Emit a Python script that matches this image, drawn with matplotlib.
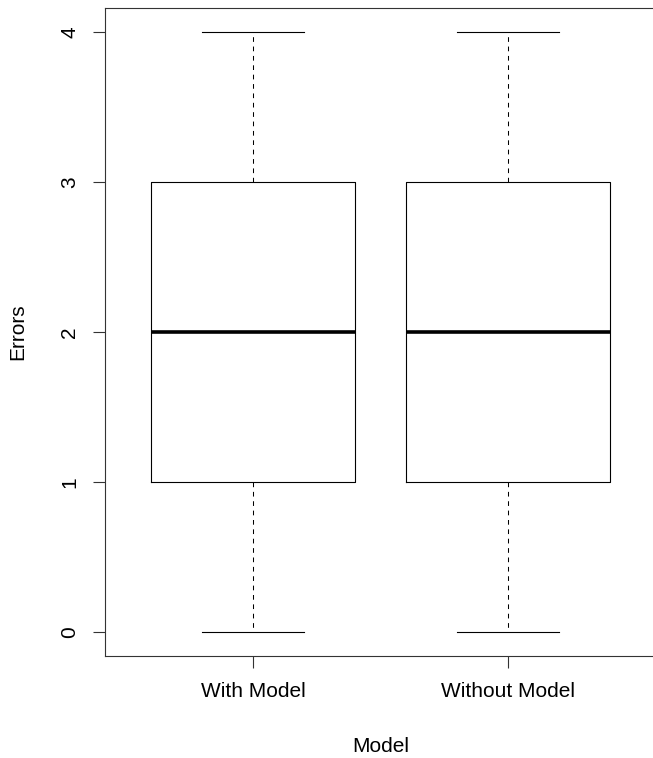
import matplotlib
matplotlib.use("Agg")
import matplotlib.pyplot as plt

# five-number summaries
groups = ["With Model", "Without Model"]
mins = [0, 0]
q1s = [1, 1]
medians = [2, 2]
q3s = [3, 3]
maxs = [4, 4]

plt.rcParams['font.family'] = ['Liberation Sans', 'DejaVu Sans']

fig = plt.figure(figsize=(6.53, 7.58), dpi=100)
# axes frame runs past the right edge like the reference crop
ax = fig.add_axes([105 / 653, (758 - 656) / 758, 551 / 653, 648 / 758])

stats = []
for g, lo, a, m, b, hi in zip(groups, mins, q1s, medians, q3s, maxs):
    stats.append(dict(label=g, whislo=lo, q1=a, med=m, q3=b, whishi=hi, fliers=[]))

ax.bxp(stats, positions=[1, 2], widths=0.8, showfliers=False,
       boxprops=dict(color='black', linewidth=0.8),
       medianprops=dict(color='black', linewidth=2.6, solid_capstyle='butt'),
       whiskerprops=dict(color='black', linewidth=0.75, linestyle=(0, (4.5, 4.5))),
       capprops=dict(color='black', linewidth=0.8),
       capwidths=0.4)

ax.set_xlim(0.42, 2.58)
ax.set_ylim(-0.16, 4.16)
ax.set_yticks([0, 1, 2, 3, 4])
ax.set_yticklabels(['0', '1', '2', '3', '4'], rotation=90, va='center')
ax.set_xticks([1, 2])
ax.set_xticklabels(groups)

for s in ax.spines.values():
    s.set_linewidth(0.8)
    s.set_color('#333333')
ax.tick_params(axis='both', length=8.6, width=0.8, color='#333333',
               labelsize=15, pad=10)

ax.set_xlabel("Model", fontsize=15, labelpad=26)
ax.set_ylabel("Errors", fontsize=15, labelpad=24)

fig.savefig("out.png", dpi=100)
